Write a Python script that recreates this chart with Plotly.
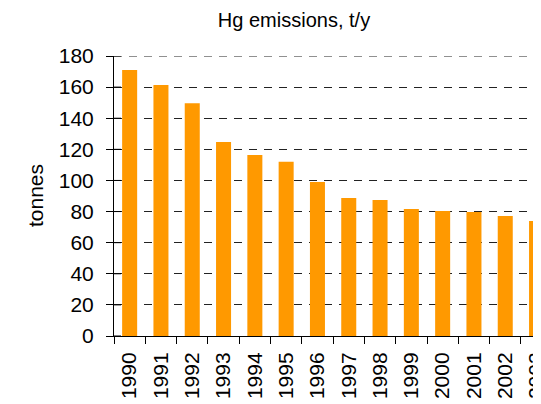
import plotly.graph_objects as go

years = ["1990", "1991", "1992", "1993", "1994", "1995", "1996",
         "1997", "1998", "1999", "2000", "2001", "2002", "2003"]
emissions = [171, 161.3, 149.7, 124.7, 116.3, 112, 99,
             88.7, 87.4, 81.6, 80.3, 79.7, 77.1, 73.9]
y_ticks = [0, 20, 40, 60, 80, 100, 120, 140, 160, 180]
y_max = 180

# page body has an 8px default margin; compensate in figure margins
OFF = 8
W, H = 541, 404
L, R, T, B = 114 - OFF, 0, 56 - OFF, 404 - (336 - OFF)
pw = W - L - R
cat_px = 31.3
x_max = -0.5 + pw / cat_px

fig = go.Figure(go.Bar(x=years, y=emissions, marker_color="#FF9900",
                       marker_line_width=0))

font = "Liberation Sans, Arial, sans-serif"
grid_dash = "8px,7px"

# inner halves of the crossing y-axis tick marks
tick_shapes = [dict(type="line", xref="paper", xsizemode="pixel", xanchor=0,
                    x0=0, x1=7, yref="y", y0=v, y1=v,
                    line=dict(color="black", width=1))
               for v in y_ticks]

fig.update_layout(
    width=W, height=H,
    margin=dict(l=L, r=R, t=T, b=B, autoexpand=False),
    paper_bgcolor="white", plot_bgcolor="white",
    bargap=0.52,
    showlegend=False,
    font=dict(family=font, size=21, color="black"),
    title=dict(text="Hg emissions, t/y", x=(294 - OFF - L) / pw,
               xref="paper", xanchor="center", y=1 - (20 - OFF) / H,
               yref="container", yanchor="middle",
               font=dict(size=20, color="black")),
    xaxis=dict(type="category", range=[-0.5, x_max],
               tickangle=-90, ticks="outside", ticklen=7, tickcolor="black",
               tickson="boundaries", showline=True, linecolor="black",
               linewidth=1, showgrid=False, tickfont=dict(size=21),
               ticklabelstandoff=7, automargin=False),
    yaxis=dict(range=[0, y_max], tickvals=y_ticks, ticks="outside",
               ticklen=7, tickcolor="black", showline=True,
               linecolor="black", linewidth=1, showgrid=True,
               gridcolor="#222222", gridwidth=1, griddash=grid_dash,
               zeroline=False, tickfont=dict(size=21),
               ticklabelstandoff=8, automargin=False),
    shapes=[dict(type="line", xref="paper", x0=0, x1=1, yref="y",
                 y0=y_max, y1=y_max,
                 line=dict(color="#222222", width=1, dash=grid_dash))]
           + tick_shapes,
    annotations=[dict(text="tonnes", x=(35 - OFF - L) / pw, xref="paper",
                      y=0.5, yref="paper", xanchor="center",
                      yanchor="middle", textangle=-90, showarrow=False,
                      font=dict(size=21, color="black"))],
)

fig.write_html("out.html")
